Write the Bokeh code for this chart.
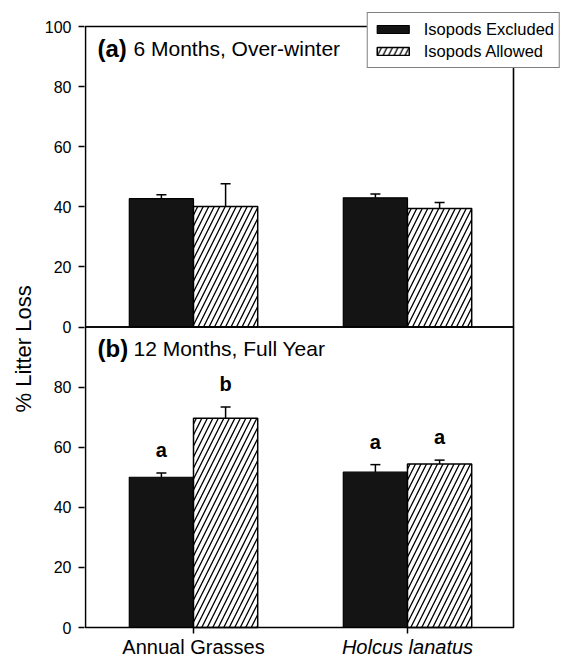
import numpy as np
from bokeh.plotting import figure
from bokeh.models import (Range1d, FixedTicker, Whisker, TeeHead, ColumnDataSource,
                          Label, Legend, LegendItem, BoxAnnotation, Title)
from bokeh.embed import file_html
from bokeh.resources import INLINE
from bokeh.core.properties import value

# ---------------- data ----------------
categories = ["Annual Grasses", "Holcus lanatus"]
series = ["Isopods Excluded", "Isopods Allowed"]

# (a) 6 Months, Over-winter
six_excluded = [42.7, 43.0]
six_excluded_se = [1.3, 1.3]
six_allowed = [40.1, 39.4]
six_allowed_se = [7.6, 2.0]

# (b) 12 Months, Full Year
twelve_excluded = [50.0, 51.7]
twelve_excluded_se = [1.4, 2.5]
twelve_allowed = [69.6, 54.4]
twelve_allowed_se = [3.8, 1.3]
twelve_excluded_letters = ["a", "a"]
twelve_allowed_letters = ["b", "a"]

y_ticks = [0, 20, 40, 60, 80, 100]
panel_titles = [("(a)", "6 Months, Over-winter"), ("(b)", "12 Months, Full Year")]
y_label = "% Litter Loss"

# ---------------- layout (pixels) ----------------
FONT = "Liberation Sans"
W, H = 565, 656
FRAME_L, PANEL_L, PANEL_R, FRAME_R = 84, 85, 513, 560
FRAME_T, PANEL_T, PANEL_B, FRAME_B = 12, 26, 627, H
CAT_SPACING_PX = 214
FIRST_CAT_PX = 193
BLACK = "#141414"
BAR_W = 0.3

ux = 1.0 / CAT_SPACING_PX
x_start = 1 - (FIRST_CAT_PX - FRAME_L) * ux
x_end = x_start + (FRAME_R - FRAME_L) * ux
x_panel_l = x_start + (PANEL_L - FRAME_L) * ux
x_panel_r = x_start + (PANEL_R - FRAME_L) * ux

uy = 200.0 / (PANEL_B - PANEL_T)
y_start = -(FRAME_B - PANEL_B) * uy
y_end = 200 + (PANEL_T - FRAME_T) * uy

p = figure(width=W, height=H, x_range=Range1d(x_start, x_end), y_range=Range1d(y_start, y_end),
           output_backend="svg", toolbar_location=None,
           min_border_left=FRAME_L, min_border_right=W - FRAME_R,
           min_border_top=FRAME_T, min_border_bottom=H - FRAME_B)
p.extra_y_ranges = {"top": Range1d(y_start - 100, y_end - 100)}

p.xgrid.visible = False
p.ygrid.visible = False
p.outline_line_color = None
p.background_fill_color = "white"
p.border_fill_color = "white"
p.xaxis.visible = False

# y axis: bottom panel 0..80, top panel 0..100 (offset by 100 on the shared axis)
ticks = y_ticks[:-1] + [100 + t for t in y_ticks]
overrides = {100 + t: str(t) for t in y_ticks}
yax = p.yaxis[0]
yax.ticker = FixedTicker(ticks=ticks)
yax.major_label_overrides = overrides
yax.major_tick_out = 6
yax.major_tick_in = 0
yax.minor_tick_line_color = None
yax.axis_line_color = None
yax.major_tick_line_width = 1.5
yax.major_label_standoff = 7
yax.major_label_text_font = FONT
yax.major_label_text_font_size = "16px"
yax.major_label_text_color = "black"

# y axis title (text starts 244 px above the frame bottom, reading upward)
p.add_layout(Title(text=y_label, align="left", offset=244, text_font=FONT,
                   text_font_size="22px", text_font_style="normal", text_color="black",
                   standoff=12), "left")

x = np.arange(1, len(categories) + 1)
xe = x - BAR_W / 2
xa = x + BAR_W / 2

excl_style = dict(fill_color=BLACK, line_color="black", line_width=1.2)
allow_style = dict(fill_color="white", hatch_pattern="/", hatch_color="black",
                   hatch_scale=11, hatch_weight=1.3, line_color="black", line_width=1.5)


def panel(excl, excl_se, allow, allow_se, rng):
    kw = {} if rng is None else {"y_range_name": rng}
    r1 = p.vbar(x=xe, top=excl, bottom=0, width=BAR_W, **excl_style, **kw)
    r2 = p.vbar(x=xa, top=allow, bottom=0, width=BAR_W, **allow_style, **kw)
    for xs, m, se in ((xe, excl, excl_se), (xa, allow, allow_se)):
        src = ColumnDataSource(dict(base=xs, lower=m, upper=np.add(m, se)))
        w = Whisker(base="base", lower="lower", upper="upper", source=src,
                    dimension="height", line_width=1.5, line_color="black",
                    lower_head=None,
                    upper_head=TeeHead(size=10, line_width=1.5, line_color="black"),
                    **kw)
        p.add_layout(w)
    return r1, r2


r_ex, r_al = panel(six_excluded, six_excluded_se, six_allowed, six_allowed_se, "top")
panel(twelve_excluded, twelve_excluded_se, twelve_allowed, twelve_allowed_se, None)

# significance letters (bottom panel)
for xs, m, se, lt in ((xe, twelve_excluded, twelve_excluded_se, twelve_excluded_letters),
                      (xa, twelve_allowed, twelve_allowed_se, twelve_allowed_letters)):
    p.text(x=xs, y=np.add(m, se), text=lt, text_font=value(FONT), text_font_style="bold",
           text_font_size="20px", text_align="center", text_baseline="alphabetic",
           y_offset=-23, text_color="black")

# category tick marks below the panel
p.segment(x0=x, x1=x, y0=0, y1=-6 * uy, line_color="black", line_width=1.5)

# panel frames (one box per panel)
for lo, hi in ((100, 200), (0, 100)):
    p.add_layout(BoxAnnotation(left=x_panel_l, right=x_panel_r, bottom=lo, top=hi,
                               fill_color=None, fill_alpha=0, line_color="black",
                               line_width=1.6, line_alpha=1))

# panel titles
for (tag, title), yv in zip(panel_titles, (200, 100)):
    p.add_layout(Label(x=x_panel_l, y=yv, x_offset=12, y_offset=-21.5,
                       text=tag, text_font=FONT, text_font_style="bold",
                       text_font_size="24px", text_baseline="middle", text_color="black"))
    p.add_layout(Label(x=x_panel_l, y=yv, x_offset=48, y_offset=-21.5,
                       text=title, text_font=FONT, text_font_size="21px",
                       text_baseline="middle", text_color="black"))

# category labels
for i, c in enumerate(categories):
    p.add_layout(Label(x=x[i], y=0, y_offset=-19, text=c, text_font=FONT,
                       text_font_size="20px", text_align="center",
                       text_baseline="middle", text_color="black",
                       text_font_style="italic" if i == 1 else "normal"))

# legend
legend = Legend(items=[LegendItem(label=series[0], renderers=[r_ex]),
                       LegendItem(label=series[1], renderers=[r_al])],
                location="top_right",
                glyph_width=40, glyph_height=10, label_standoff=11, padding=5,
                spacing=0, label_height=22, margin=0,
                border_line_color="black", border_line_width=1.5,
                background_fill_color="white", background_fill_alpha=1,
                label_text_font=FONT, label_text_font_size="16.5px",
                label_text_color="black")
p.add_layout(legend)

open("out.html", "w").write(file_html(p, INLINE))
